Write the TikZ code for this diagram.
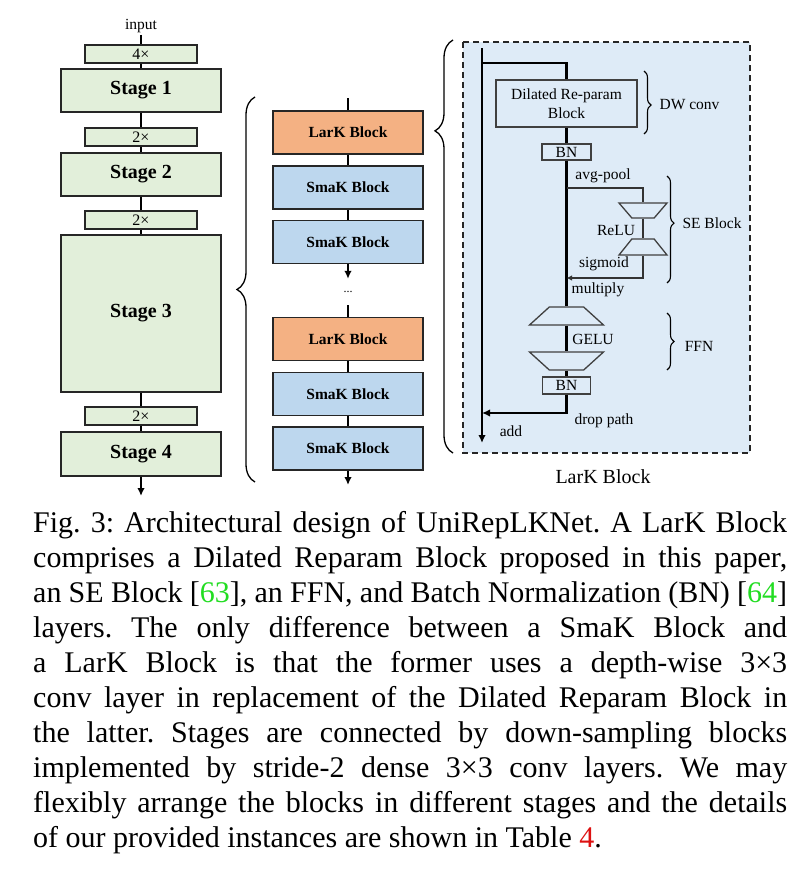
\documentclass[tikz,border=0pt]{standalone}
\usepackage{fontspec}
\setmainfont{Liberation Serif}
\usetikzlibrary{arrows.meta,shapes.geometric,decorations.pathreplacing}
\definecolor{stagegreen}{HTML}{E2EFDA}
\definecolor{larkorange}{HTML}{F4B183}
\definecolor{smakblue}{HTML}{BDD7EE}
\definecolor{panelblue}{HTML}{DEEBF7}
\definecolor{citegreen}{HTML}{22DD22}
\definecolor{tabred}{HTML}{DD1111}
\frenchspacing
\begin{document}
\begin{tikzpicture}[x=1pt,y=-1pt,>={Latex[length=8pt,width=7.5pt]},
  conn/.style={line width=2.4pt},
  box/.style={draw=black!85,line width=1.8pt,inner sep=0pt},
  stage/.style={box,fill=stagegreen,minimum width=160pt,font=\fontsize{20}{24}\selectfont\bfseries},
  down/.style={box,fill=stagegreen,minimum width=112pt,minimum height=18pt,font=\fontsize{16}{18}\selectfont},
  blk/.style={box,minimum width=150pt,minimum height=43pt,font=\fontsize{15.5}{18}\selectfont\bfseries},
  lark/.style={blk,fill=larkorange},
  smak/.style={blk,fill=smakblue},
  panelbox/.style={fill=panelblue,draw=black!85,line width=1.5pt,dash pattern=on 6pt off 4pt},
  inbox/.style={draw=black!75,line width=1.3pt,inner sep=0pt,fill=panelblue,font=\fontsize{15.5}{19}\selectfont},
  trap/.style={inbox,inner sep=1pt,trapezium,trapezium angle=60,trapezium stretches=true},
  lbl/.style={inner sep=0pt,font=\fontsize{15.5}{18}\selectfont},
  thinln/.style={line width=1.3pt,draw=black!80},
  mainln/.style={line width=2.6pt},
  bigbrace/.style={decorate,decoration={brace,amplitude=18pt,aspect=#1},line width=1.3pt},
  bigbrace/.default=0.5,
  smallbrace/.style={decorate,decoration={brace,amplitude=7pt,aspect=#1},line width=1.1pt},
  smallbrace/.default=0.5]
\path[use as bounding box,fill=white] (0,0) rectangle (807,878);
\node (input) [lbl,inner sep=2pt] at (141,26) {input};
\node (ds1) [down] at (141,54) {4×};
\node (s1) [stage,minimum height=43pt] at (141,90.5) {Stage 1};
\node (ds2) [down] at (141,137) {2×};
\node (s2) [stage,minimum height=43pt] at (141,174.5) {Stage 2};
\node (ds3) [down] at (141,220) {2×};
\node (s3) [stage,minimum height=157pt] at (141,313.5) {Stage 3};
\node (ds4) [down] at (141,416) {2×};
\node (s4) [stage,minimum height=44pt] at (141,454) {Stage 4};
\coordinate (out1) at (141,496);
\draw[conn] (input) -- (ds1) -- (s1) -- (ds2) -- (s2) -- (ds3) -- (s3) -- (ds4) -- (s4);
\draw[conn,->] (s4) -- (out1);
\coordinate (in2) at (348,98);
\node (lk1) [lark] at (348,132.5) {LarK Block};
\node (sk1) [smak] at (348,187.5) {SmaK Block};
\node (sk2) [smak] at (348,242) {SmaK Block};
\node (dots) [inner sep=0pt,minimum height=26pt,font=\fontsize{12}{14}\selectfont] at (348,292) {...};
\node (lk2) [lark] at (348,339) {LarK Block};
\node (sk3) [smak] at (348,394) {SmaK Block};
\node (sk4) [smak] at (348,448.5) {SmaK Block};
\coordinate (out2) at (348,485);
\draw[conn] (in2) -- (lk1) -- (sk1) -- (sk2);
\draw[conn,->] (sk2) -- (dots);
\draw[conn] (dots) -- (lk2) -- (sk3) -- (sk4);
\draw[conn,->] (sk4) -- (out2);
\draw[bigbrace] (255,482) -- (255,97);
\draw[bigbrace=0.78] (453,453) -- (453,40);
\draw[panelbox] (463,42) rectangle (750,453);
\coordinate (skip) at (482,48);
\coordinate (fork) at (482,63);
\coordinate (sum) at (482,413);
\coordinate (res) at (482,443);
\node (dil) [inbox,minimum width=141pt,minimum height=47pt,align=center] at (566.5,103.5) {Dilated Re-param\\Block};
\node (bn1) [inbox,minimum width=49pt,minimum height=16pt] at (566.5,152) {BN};
\coordinate (pool) at (566.5,188);
\node (sq) [trap,shape border rotate=180,minimum width=48pt,minimum height=15pt] at (643,210.5) {};
\node (ex) [trap,minimum width=48pt,minimum height=16pt] at (643,247) {};
\coordinate (mul) at (566.5,278);
\node (fc1) [trap,minimum width=74pt,minimum height=18pt] at (566.5,316) {};
\node (fc2) [trap,shape border rotate=180,minimum width=74pt,minimum height=18pt] at (566.5,361) {};
\node (bn2) [inbox,minimum width=48pt,minimum height=17pt] at (566.5,385.5) {BN};
\draw[mainln,->] (skip) -- (res);
\draw[mainln] (fork) -| (dil);
\draw[mainln] (dil) -- (bn1);
\draw[mainln] (bn1) -- (fc1);
\draw[thinln] (pool) -| (sq);
\draw[thinln] (sq) -- (ex);
\draw[thinln,-{Latex[length=5.5pt,width=5.5pt]}] (ex) |- (mul);
\draw[mainln] (fc1) -- (fc2);
\draw[mainln] (fc2) -- (bn2);
\draw[mainln,->] (bn2) |- (sum);
\node[lbl] (avgpool) at (603,176) {avg-pool};
\node[lbl] (relu) at (616,230) {ReLU};
\node[lbl] (sigm) at (604,264) {sigmoid};
\node[lbl] (mult) at (598,290) {multiply};
\node[lbl] (gelu) at (593,339) {GELU};
\node[lbl] (drop) at (604,421) {drop path};
\node[lbl] (addl) at (511,431) {add};
\node[lbl,font=\fontsize{20}{24}\selectfont] (larkname) at (603,477) {LarK Block};
\draw[smallbrace=0.54] (644,71) -- (644,134);
\draw[smallbrace=0.44] (667,176) -- (667,283);
\draw[smallbrace] (667,313) -- (667,370);
\node[lbl] (dwl) at (689.5,105) {DW conv};
\node[lbl] (sel) at (712,223) {SE Block};
\node[lbl] (ffnl) at (699,346) {FFN};
\node (caption) [anchor=north west,inner sep=0pt,align=left,font=\fontsize{30}{35}\selectfont] at (33,508) {%
\strut\makebox[754pt][s]{Fig. 3: Architectural design of UniRepLKNet. A LarK Block}\\
\makebox[754pt][s]{comprises a Dilated Reparam Block proposed in this paper,}\\
\makebox[754pt][s]{an SE Block [\textcolor{citegreen}{63}], an FFN, and Batch Normalization (BN) [\textcolor{citegreen}{64}]}\\
\makebox[754pt][s]{layers. The only difference between a SmaK Block and}\\
\makebox[754pt][s]{a LarK Block is that the former uses a depth-wise 3×3}\\
\makebox[754pt][s]{conv layer in replacement of the Dilated Reparam Block in}\\
\makebox[754pt][s]{the latter. Stages are connected by down-sampling blocks}\\
\makebox[754pt][s]{implemented by stride-2 dense 3×3 conv layers. We may}\\
\makebox[754pt][s]{flexibly arrange the blocks in different stages and the details}\\
of our provided instances are shown in Table \textcolor{tabred}{4}.};
\end{tikzpicture}
\end{document}
